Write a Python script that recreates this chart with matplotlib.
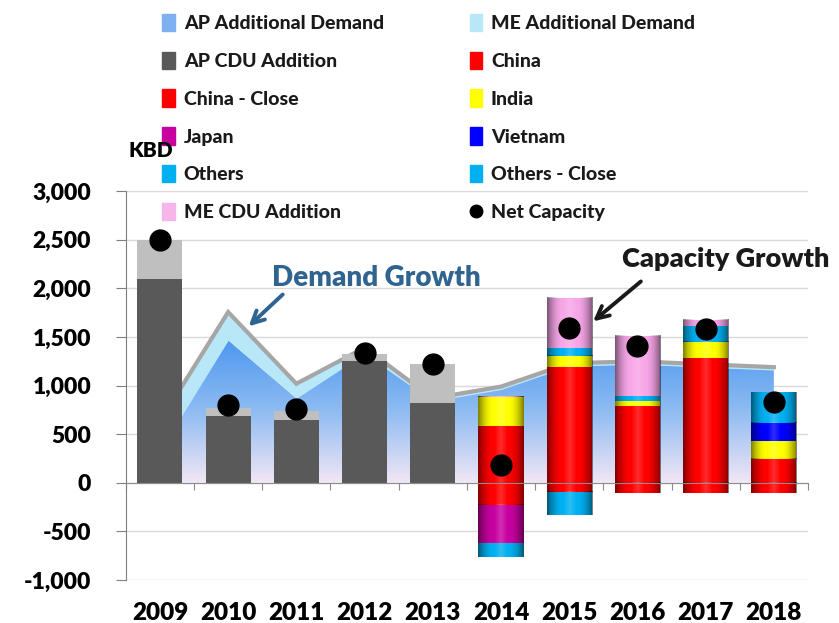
import matplotlib
matplotlib.use('Agg')
import matplotlib.pyplot as plt
from matplotlib.patches import Patch
from matplotlib.lines import Line2D
from matplotlib.ticker import FuncFormatter
import matplotlib.colors as mcolors
import numpy as np

plt.rcParams['font.family'] = ['Lato', 'DejaVu Sans']
plt.rcParams['font.weight'] = 'heavy'
WEIGHT = 'heavy'

years = ['2009', '2010', '2011', '2012', '2013', '2014', '2015', '2016', '2017', '2018']

# demand growth (area), KBD
ap_demand = [330, 1467, 870, 1330, 840, 960, 1200, 1220, 1190, 1160]
me_demand = [300, 290, 150, 60, 30, 30, 30, 30, 30, 30]

# capacity additions, KBD
ap_cdu = [2100, 690, 650, 1250, 820, 0, 0, 0, 0, 0]
ap_cdu_other = [400, 80, 90, 80, 400, 0, 0, 0, 0, 0]
china = [0, 0, 0, 0, 0, 580, 1190, 790, 1280, 250]
india = [0, 0, 0, 0, 0, 305, 120, 50, 170, 180]
vietnam = [0, 0, 0, 0, 0, 0, 0, 0, 0, 190]
others = [0, 0, 0, 0, 0, 0, 75, 50, 160, 315]
me_cdu = [0, 0, 0, 0, 0, 10, 515, 625, 70, 0]

# closures, KBD
china_close = [0, 0, 0, 0, 0, -225, -90, -105, -105, -105]
japan = [0, 0, 0, 0, 0, -395, 0, 0, 0, 0]
others_close = [0, 0, 0, 0, 0, -140, -240, 0, 0, 0]

net_capacity = [2500, 800, 760, 1340, 1220, 180, 1595, 1410, 1580, 835]

x = np.arange(len(years))
bar_w = 0.66

fig = plt.figure(figsize=(8.39, 6.23), dpi=100)
ax = fig.add_axes([0.150, 0.069, 0.813, 0.624])

# gridlines
for v in range(-1000, 3001, 500):
    ax.axhline(v, color='#d9d9d9', lw=1, zorder=0)

# demand area: AP with a vertical blue fade, ME on top
ap = np.array(ap_demand, float)
tot = ap + np.array(me_demand, float)
ap_poly = ax.fill_between(x, 0, ap, color='none', lw=0, zorder=1)
fade = mcolors.LinearSegmentedColormap.from_list('fade', ['#f2e6f5', '#8fbcf2', '#4e97ef'])
grad = np.linspace(0, 1, 256).reshape(-1, 1)
im = ax.imshow(grad, cmap=fade, origin='lower', aspect='auto',
               extent=[x[0], x[-1], 0, ap.max()], zorder=1)
im.set_clip_path(ap_poly.get_paths()[0], transform=ax.transData)
ax.fill_between(x, ap, tot, color='#b8e8f8', lw=0, zorder=1)
ax.plot(x, tot, color='#a6a6a6', lw=3, zorder=1.5, solid_joinstyle='miter')


def shade_bars(bars):
    # cylinder-like shading: bright centre, darker edges
    t = np.linspace(-1, 1, 64)
    d = np.abs(t)
    rgba = np.zeros((1, 64, 4))
    centre = d < 0.3
    rgba[0, centre, :3] = 1.0
    rgba[0, centre, 3] = 0.18 * (1 - d[centre] / 0.3)
    rgba[0, ~centre, 3] = 0.5 * ((d[~centre] - 0.3) / 0.7) ** 2
    for p in bars:
        h = p.get_height()
        if h == 0:
            continue
        x0, y0, w = p.get_x(), p.get_y(), p.get_width()
        ax.imshow(rgba, extent=[x0, x0 + w, y0, y0 + h], aspect='auto',
                  interpolation='bilinear', zorder=2.1)


pos_series = [
    (ap_cdu, '#595959', 'AP CDU Addition', False),
    (ap_cdu_other, '#bfbfbf', None, False),
    (china, '#ff0000', 'China', True),
    (india, '#ffff00', 'India', True),
    (vietnam, '#0000ff', 'Vietnam', True),
    (others, '#00b0f0', 'Others', True),
    (me_cdu, '#f7a6e8', 'ME CDU Addition', True),
]
neg_series = [
    (china_close, '#ff0000', 'China - Close', True),
    (japan, '#c800a0', 'Japan', True),
    (others_close, '#00b0f0', 'Others - Close', True),
]

bottom = np.zeros(len(years))
for vals, col, lab, shaded in pos_series:
    vals = np.array(vals, float)
    b = ax.bar(x, vals, bar_w, bottom=bottom, color=col, lw=0, zorder=2)
    if shaded:
        shade_bars(b)
    bottom += vals

bottom = np.zeros(len(years))
for vals, col, lab, shaded in neg_series:
    vals = np.array(vals, float)
    b = ax.bar(x, vals, bar_w, bottom=bottom, color=col, lw=0, zorder=2)
    if shaded:
        shade_bars(b)
    bottom += vals

ax.plot(x, net_capacity, 'o', color='black', ms=15, zorder=4)

# axes
ax.set_xlim(-0.5, 9.5)
ax.set_ylim(-1000, 3000)
ax.set_yticks(range(-1000, 3001, 500))
ax.yaxis.set_major_formatter(FuncFormatter(lambda v, p: f'{int(v):,}'))
ax.tick_params(axis='y', length=7, color='#7f7f7f', labelsize=16.5, pad=18)
for t in ax.get_yticklabels():
    t.set_fontweight(WEIGHT)
for s in ['top', 'right']:
    ax.spines[s].set_visible(False)
ax.spines['left'].set_color('#7f7f7f')
ax.spines['bottom'].set_position(('data', 0))
ax.spines['bottom'].set_color('#8c8c8c')
ax.spines['bottom'].set_zorder(3)
ax.set_xticks(np.arange(-0.5, 10, 1))
ax.tick_params(axis='x', length=5, color='#8c8c8c', labelbottom=False)

sec = ax.secondary_xaxis('bottom')
sec.set_xticks(x)
sec.set_xticklabels(years, fontweight=WEIGHT)
sec.tick_params(length=0, labelsize=17.5, pad=16)
sec.spines['bottom'].set_visible(False)

fig.text(0.153, 0.758, 'KBD', fontsize=15, fontweight=WEIGHT, ha='left', va='center')

ax.text(3.17, 2110, 'Demand Growth', fontsize=20, fontweight=WEIGHT,
        color='#2f6390', ha='center', va='center')
ax.annotate('', xy=(1.30, 1610), xytext=(1.80, 1938),
            arrowprops=dict(arrowstyle='->', color='#2f6390', lw=2.8,
                            mutation_scale=22, shrinkA=0, shrinkB=0))
ax.text(8.30, 2300, 'Capacity Growth', fontsize=19.5, fontweight=WEIGHT,
        color='#1a1a1a', ha='center', va='center')
ax.annotate('', xy=(6.35, 1661), xytext=(7.05, 2072),
            arrowprops=dict(arrowstyle='->', color='#1a1a1a', lw=2.8,
                            mutation_scale=22, shrinkA=0, shrinkB=0))

# legend laid out column by column
h = {
    'AP Additional Demand': Patch(color='#7fb0f0'),
    'ME Additional Demand': Patch(color='#b8e8f8'),
    'AP CDU Addition': Patch(color='#595959'),
    'China': Patch(color='#ff0000'),
    'China - Close': Patch(color='#ff0000'),
    'India': Patch(color='#ffff00'),
    'Japan': Patch(color='#c800a0'),
    'Vietnam': Patch(color='#0000ff'),
    'Others': Patch(color='#00b0f0'),
    'Others - Close': Patch(color='#00b0f0'),
    'ME CDU Addition': Patch(color='#f7b6ea'),
    'Net Capacity': Line2D([], [], marker='o', ls='', color='black', ms=9),
}
order = ['AP Additional Demand', 'AP CDU Addition', 'China - Close', 'Japan', 'Others', 'ME CDU Addition',
         'ME Additional Demand', 'China', 'India', 'Vietnam', 'Others - Close', 'Net Capacity']
leg = ax.legend([h[k] for k in order], order, ncol=2, loc='upper left',
                bbox_to_anchor=(0.189, 0.984), bbox_transform=fig.transFigure,
                frameon=False, prop=dict(size=14, weight='black'),
                handlelength=0.65, handleheight=1.0,
                handletextpad=0.45, columnspacing=4.4, labelspacing=1.0,
                borderaxespad=0, borderpad=0.2)
for t in leg.get_texts():
    t.set_color('#1a1a1a')

fig.savefig('out.png', dpi=100)
